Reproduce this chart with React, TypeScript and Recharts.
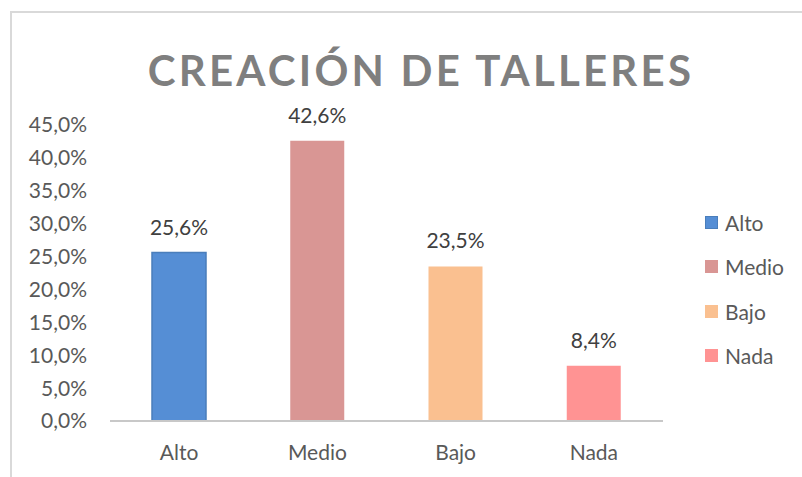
import React from 'react';
import { BarChart, Bar, XAxis, YAxis, Cell, LabelList, Legend } from 'recharts';

const categories = ['Alto', 'Medio', 'Bajo', 'Nada'];
const values = [25.6, 42.6, 23.5, 8.4];
const colors = ['#558ED5', '#D99694', '#FAC090', '#FF9393'];
const yTicks = [0, 5, 10, 15, 20, 25, 30, 35, 40, 45];
const title = 'CREACIÓN DE TALLERES';

const data = categories.map((c, i) => ({ name: c, value: values[i] }));
const fmt = (v: number) => v.toFixed(1).replace('.', ',') + '%';
const FONT = 'Lato, "Open Sans", sans-serif';
const TEXT = '#595959';

const LegendContent = () => (
  <div style={{ fontFamily: FONT }}>
    {categories.map((c, i) => (
      <div key={c} style={{ display: 'flex', alignItems: 'center', height: 44.5 }}>
        <div style={{ width: 13, height: 13, background: colors[i], border: i === 0 ? '1px solid #4A7EBB' : 'none', boxSizing: 'border-box', marginRight: 7 }} />
        <span style={{ fontSize: 21, color: TEXT }}>{c}</span>
      </div>
    ))}
  </div>
);

export default function App() {
  return (
    <div style={{ position: 'absolute', left: 0, top: 0, width: 802, height: 477, background: '#fff', overflow: 'hidden' }}>
      <div style={{ position: 'absolute', left: 10, top: 11, width: 830, height: 500, border: '2px solid #D9D9D9', boxSizing: 'border-box' }} />
      <BarChart width={802} height={477} data={data} margin={{ top: 125, right: 139, bottom: 0, left: 0 }} barSize={54}>
        <text x={421} y={86} textAnchor="middle" fontFamily={FONT} fontWeight={700} fontSize={42} fill="#7F7F7F" letterSpacing={3.2}>{title}</text>
        <YAxis type="number" domain={[0, 45]} ticks={yTicks} interval={0} width={110} axisLine={false} tickLine={false} tickSize={0} tickMargin={23}
          tickFormatter={fmt} tick={{ fontFamily: FONT, fontSize: 21, fill: TEXT }} />
        <XAxis dataKey="name" height={56} axisLine={{ stroke: '#C8C8C8', strokeWidth: 2 }} tickLine={false} tickSize={0} tickMargin={24}
          tick={{ fontFamily: FONT, fontSize: 21, fill: TEXT }} />
        <Legend layout="horizontal" align="center" verticalAlign="middle" content={<LegendContent />}
          wrapperStyle={{ position: 'absolute', left: 705, top: 200, width: 97, height: 180 }} />
        <Bar dataKey="value" isAnimationActive={false}>
          {data.map((d, i) => (
            <Cell key={d.name} fill={colors[i]} stroke={i === 0 ? '#4A7EBB' : 'none'} strokeWidth={i === 0 ? 1.5 : 0} />
          ))}
          <LabelList dataKey="value" position="top" offset={18} formatter={(v: any) => fmt(Number(v))}
            style={{ fontFamily: FONT, fontSize: 21, fill: '#404040' }} />
        </Bar>
      </BarChart>
    </div>
  );
}
